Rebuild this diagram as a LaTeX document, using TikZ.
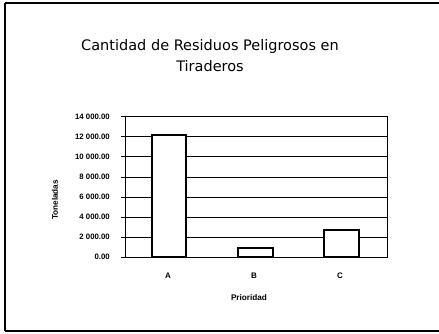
\documentclass[tikz,border=0pt]{standalone}
\usepackage{fontspec}
\setmainfont{DejaVu Sans}
\newfontfamily\tickfont{Liberation Sans}
\begin{document}
\begin{tikzpicture}[x=1pt,y=-1pt,
  frameline/.style={black,line width=1.6pt},
  gridline/.style={black,line width=1pt},
  barbox/.style={draw=black,fill=white,line width=1.2pt},
  ticklbl/.style={anchor=east,inner sep=0pt,font=\tickfont\fontsize{7.8}{9}\selectfont\bfseries},
  catlbl/.style={inner sep=0pt,font=\tickfont\fontsize{8}{9}\selectfont\bfseries},
  axtitle/.style={inner sep=0pt,font=\tickfont\fontsize{8.2}{9}\selectfont\bfseries}]
\useasboundingbox[fill=white] (0,0) rectangle (439,334);
% outer frame
\draw[frameline,line width=1.2pt] (5,3) -- (439,3);
\draw[frameline] (5,3) -- (5,331);
\draw[frameline,line width=2pt] (5,331) -- (439,331);
% title
\node[align=center,font=\fontsize{14.5}{21}\selectfont,inner sep=0pt] (title) at (210,56)
  {Cantidad de Residuos Peligrosos en\\Tiraderos};
% plot area
\coordinate (pa) at (125,117);
\coordinate (pb) at (387,257);
\draw[gridline] (pa) rectangle (pb);
\foreach \v/\y in {0/257,2/237,4/217,6/197,8/177,10/157,12/137,14/117}{
  \draw[gridline] (125,\y) -- (387,\y);
  \draw[gridline] (121,\y) -- (125,\y);
}
\node[ticklbl] (t14) at (110,117) {14 000.00};
\node[ticklbl] (t12) at (110,137) {12 000.00};
\node[ticklbl] (t10) at (110,157) {10 000.00};
\node[ticklbl] (t8) at (110,177) {8 000.00};
\node[ticklbl] (t6) at (110,197) {6 000.00};
\node[ticklbl] (t4) at (110,217) {4 000.00};
\node[ticklbl] (t2) at (110,237) {2 000.00};
\node[ticklbl] (t0) at (110,257) {0.00};
% bars
\draw[barbox] (152,257) rectangle (186,135);
\draw[barbox] (238,257) rectangle (273,248);
\draw[barbox] (324,257) rectangle (359,230);
% category labels
\node[catlbl] (ca) at (168,276) {A};
\node[catlbl] (cb) at (254,276) {B};
\node[catlbl] (cc) at (340,276) {C};
% axis titles
\node[axtitle] (xt) at (249,298) {Prioridad};
\node[axtitle,rotate=90] (yt) at (55,200) {Toneladas};
\end{tikzpicture}
\end{document}
